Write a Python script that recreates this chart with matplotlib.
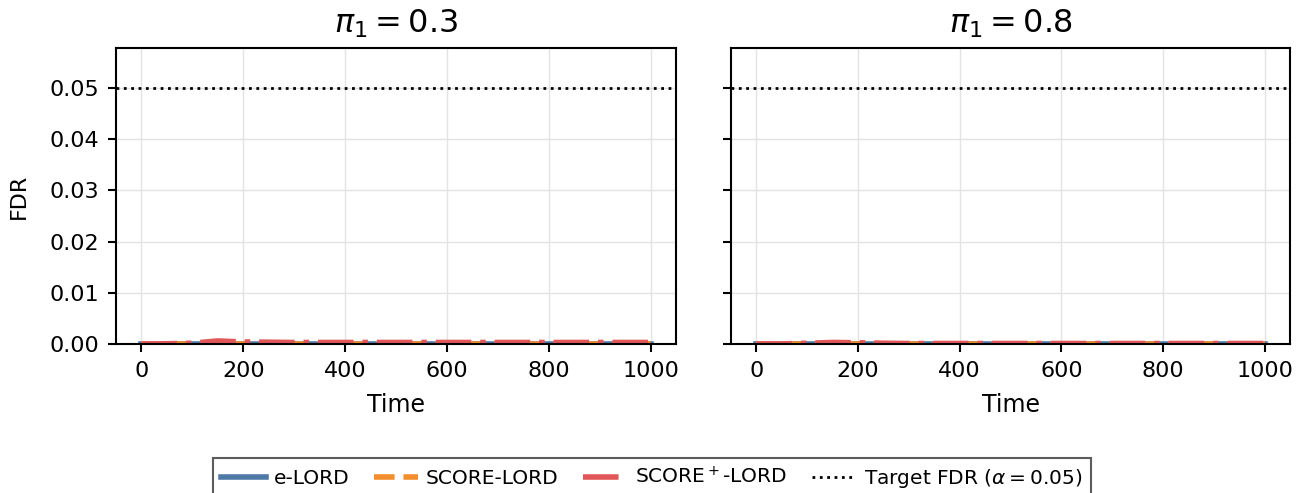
import matplotlib.pyplot as plt

time = [0, 50, 100, 150, 200, 250, 300, 350, 400, 450, 500,
        550, 600, 650, 700, 750, 800, 850, 900, 950, 1000]

# left panel, pi_1 = 0.3
elord_03 = [0.0] * 21
score_03 = [0.0] * 21
plus_03 = [0.0, 0.00005, 0.00015, 0.0006, 0.0004, 0.00035, 0.0003, 0.0003, 0.0003, 0.0003, 0.0003,
           0.0003, 0.0003, 0.0003, 0.0003, 0.0003, 0.0003, 0.0003, 0.0003, 0.0003, 0.0003]

# right panel, pi_1 = 0.8
elord_08 = [0.0] * 21
score_08 = [0.0] * 21
plus_08 = [0.0, 0.00002, 0.00015, 0.0003, 0.00025, 0.00015, 0.0001, 0.0001, 0.0001, 0.0001, 0.0001,
           0.0001, 0.0001, 0.0001, 0.0001, 0.0001, 0.0001, 0.0001, 0.0001, 0.0001, 0.0001]

panels = [('$\\pi_1 = 0.3$', elord_03, score_03, plus_03),
          ('$\\pi_1 = 0.8$', elord_08, score_08, plus_08)]
alpha = 0.05

fig = plt.figure(figsize=(13.04, 4.93), dpi=100)
ax1 = fig.add_axes([116 / 1304, 1 - 344 / 493, 560 / 1304, 296 / 493])
ax2 = fig.add_axes([731 / 1304, 1 - 344 / 493, 559 / 1304, 296 / 493], sharey=ax1)

for ax, (title, e, s, p) in zip([ax1, ax2], panels):
    ax.plot(time, e, color='#4e79a7', linewidth=4, linestyle='-', label='e-LORD')
    ax.plot(time, s, color='#f28e2b', linewidth=4, linestyle='--', label='SCORE-LORD')
    ax.plot(time, p, color='#e15759', linewidth=4, linestyle='-.', label='SCORE$^+$-LORD')
    ax.axhline(alpha, color='black', linewidth=2, linestyle=':', label='Target FDR ($\\alpha = 0.05$)')
    ax.set_title(title, fontsize=23, pad=11)
    ax.set_xlabel('Time', fontsize=17, labelpad=9)
    ax.set_xlim(-50, 1050)
    ax.set_ylim(0, 0.0578)
    ax.set_xticks([0, 200, 400, 600, 800, 1000])
    ax.set_yticks([0, 0.01, 0.02, 0.03, 0.04, 0.05])
    ax.grid(True, color='#e3e3e3', linewidth=1)
    for sp in ax.spines.values():
        sp.set_linewidth(1.5)
    ax.tick_params(width=1.5, length=6, pad=6, labelsize=16)

ax1.set_ylabel('FDR', fontsize=16, labelpad=15)
ax1.yaxis.set_major_formatter(plt.FormatStrFormatter('%.2f'))
ax2.tick_params(labelleft=False)

handles, labels = ax1.get_legend_handles_labels()
leg = fig.legend(handles, labels, loc='lower center', ncol=4, bbox_to_anchor=(0.5, -0.03),
                 fancybox=False, edgecolor='#333333', fontsize=14.5, handlelength=2.2,
                 handletextpad=0.4, columnspacing=1.2)
leg.get_frame().set_linewidth(1.5)

fig.savefig('out.png', dpi=100)
